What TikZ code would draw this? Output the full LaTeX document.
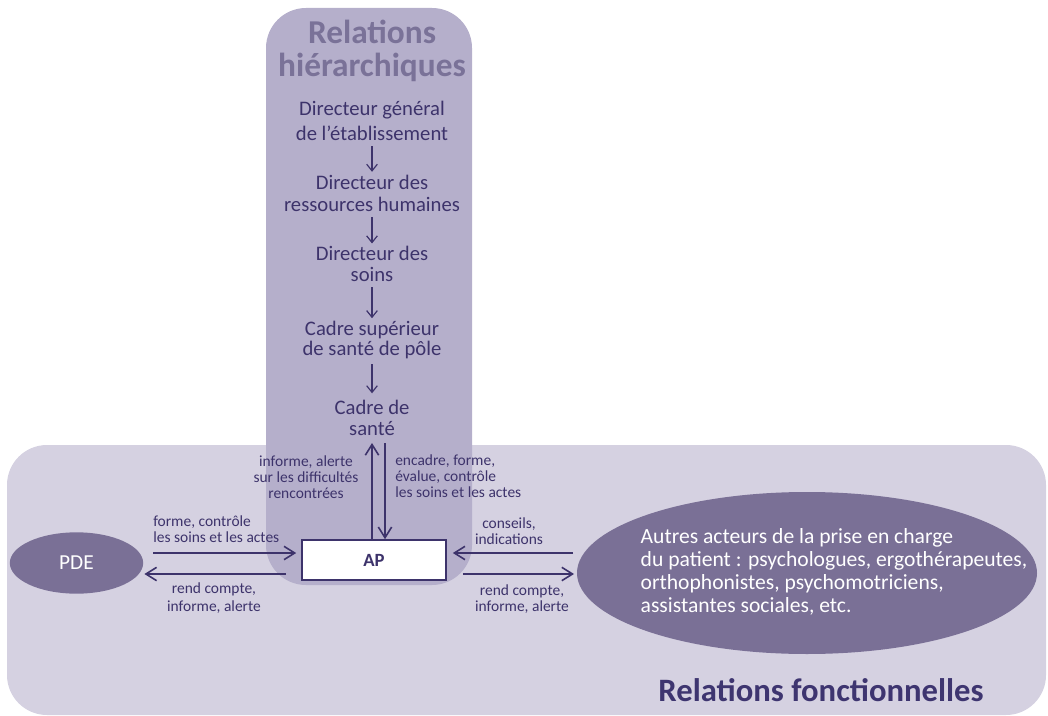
\documentclass[tikz,border=0pt]{standalone}
\usepackage{fontspec}
\setmainfont{Carlito}
\usetikzlibrary{arrows.meta,shapes.geometric}
\definecolor{hzband}{HTML}{D5D1E1}
\definecolor{vtband}{HTML}{B5AFCB}
\definecolor{ellfill}{HTML}{7A7096}
\definecolor{ttlh}{HTML}{7A7298}
\definecolor{dk}{HTML}{3D336B}
\definecolor{ttlf}{HTML}{3E3570}
\tikzset{
  hier/.style={align=center, text=dk, inner sep=2pt},
  lbl/.style={text=dk, inner sep=0pt, font=\fontsize{11.6}{12}\selectfont},
  arr/.style={draw=dk, line width=1.2pt, -{Straight Barb[length=8pt,width=10pt,line width=1.2pt]}},
  harr/.style={draw=dk, line width=0.9pt, shorten <=2pt, -{Straight Barb[length=5pt,width=8pt,line width=0.9pt]}},
  oval/.style={ellipse, fill=ellfill, inner sep=0pt, text=white},
}
\begin{document}
\begin{tikzpicture}[x=0.75pt,y=-0.75pt]
\useasboundingbox (0,0) rectangle (1048,716);
% bands
\fill[hzband, rounded corners=30pt] (7,445) rectangle (1046,715);
\fill[vtband, rounded corners=30pt] (266,8) rectangle (472,585);
% titles
\node[align=center, text=ttlh, inner sep=0pt, font=\bfseries\fontsize{25}{25}\selectfont] (th) at (372,51) {Relations\\hiérarchiques};
\node[text=ttlf, inner sep=0pt, font=\bfseries\fontsize{24.5}{25}\selectfont] (tf) at (821,690) {Relations fonctionnelles};
% hierarchy
\node[hier, font=\fontsize{15.5}{18.75}\selectfont] (h1) at (372,121) {Directeur général\\de l’établissement};
\node[hier, font=\fontsize{15.5}{16.5}\selectfont] (h2) at (372,193) {Directeur des\\ressources humaines};
\node[hier, font=\fontsize{15.5}{15.5}\selectfont] (h3) at (372,264) {Directeur des\\soins};
\node[hier, font=\fontsize{15.5}{15}\selectfont] (h4) at (372,340) {Cadre supérieur\\de santé de pôle};
\node[hier, font=\fontsize{15.5}{15.75}\selectfont] (h5) at (372,418) {Cadre de\\santé};
\draw[harr] (h1) -- (h2);
\draw[harr] (h2) -- (h3);
\draw[harr] (h3) -- (h4);
\draw[harr, shorten >=3pt] (h4) -- (h5);
% AP and ovals
\node[draw=dk, line width=1.2pt, fill=white, minimum width=108pt, minimum height=30pt, inner sep=0pt, text=dk, font=\bfseries\fontsize{14}{16}\selectfont] (AP) at (374,560) {AP};
\node[oval, minimum width=100pt, minimum height=46pt, font=\fontsize{16}{18}\selectfont] (PDE) at (76.5,563) {PDE};
\node[oval, minimum width=345pt, minimum height=121.5pt] (oth) at (807,573) {};
\node[align=left, text=white, inner sep=0pt, font=\fontsize{16.2}{17.3}\selectfont] (othtxt) at (834,572) {Autres acteurs de la prise en charge\\du patient : psychologues, ergothérapeutes,\\orthophonistes, psychomotriciens,\\assistantes sociales, etc.};
% coordinates for connectors
\coordinate (cu) at (372,443);
\coordinate (cd) at (385,443);
\coordinate (ya) at (0,553);
\coordinate (yb) at (0,574);
\coordinate (ra) at (573,553);
\coordinate (rb) at (574,574);
% vertical connectors
\draw[arr] (AP.north -| cu) -- (cu);
\draw[arr] (cd) -- (AP.north -| cd);
% left connectors
\draw[arr, shorten <=7.5pt, shorten >=3.75pt] (PDE.east |- ya) -- (AP.west |- ya);
\draw[arr, shorten <=11.25pt, shorten >=0.75pt] (AP.west |- yb) -- (PDE.east |- yb);
% right connectors
\draw[arr, shorten >=4.5pt] (ra) -- (AP.east |- ra);
\draw[arr, shorten <=12pt] (AP.east |- rb) -- (rb);
% labels
\node[lbl, align=center] (l1) at (306,477) {informe, alerte\\sur les difficultés\\rencontrées};
\node[lbl, align=left, anchor=west] (l2) at (395,476) {encadre, forme,\\évalue, contrôle\\les soins et les actes};
\node[lbl, align=left, anchor=west] (l3) at (153,529) {forme, contrôle\\les soins et les actes};
\node[lbl, align=center, font=\fontsize{11.6}{14}\selectfont] (l4) at (214,598) {rend compte,\\informe, alerte};
\node[lbl, align=center] (l5) at (509,531) {conseils,\\indications};
\node[lbl, align=center] (l6) at (522,599) {rend compte,\\informe, alerte};
\end{tikzpicture}
\end{document}
